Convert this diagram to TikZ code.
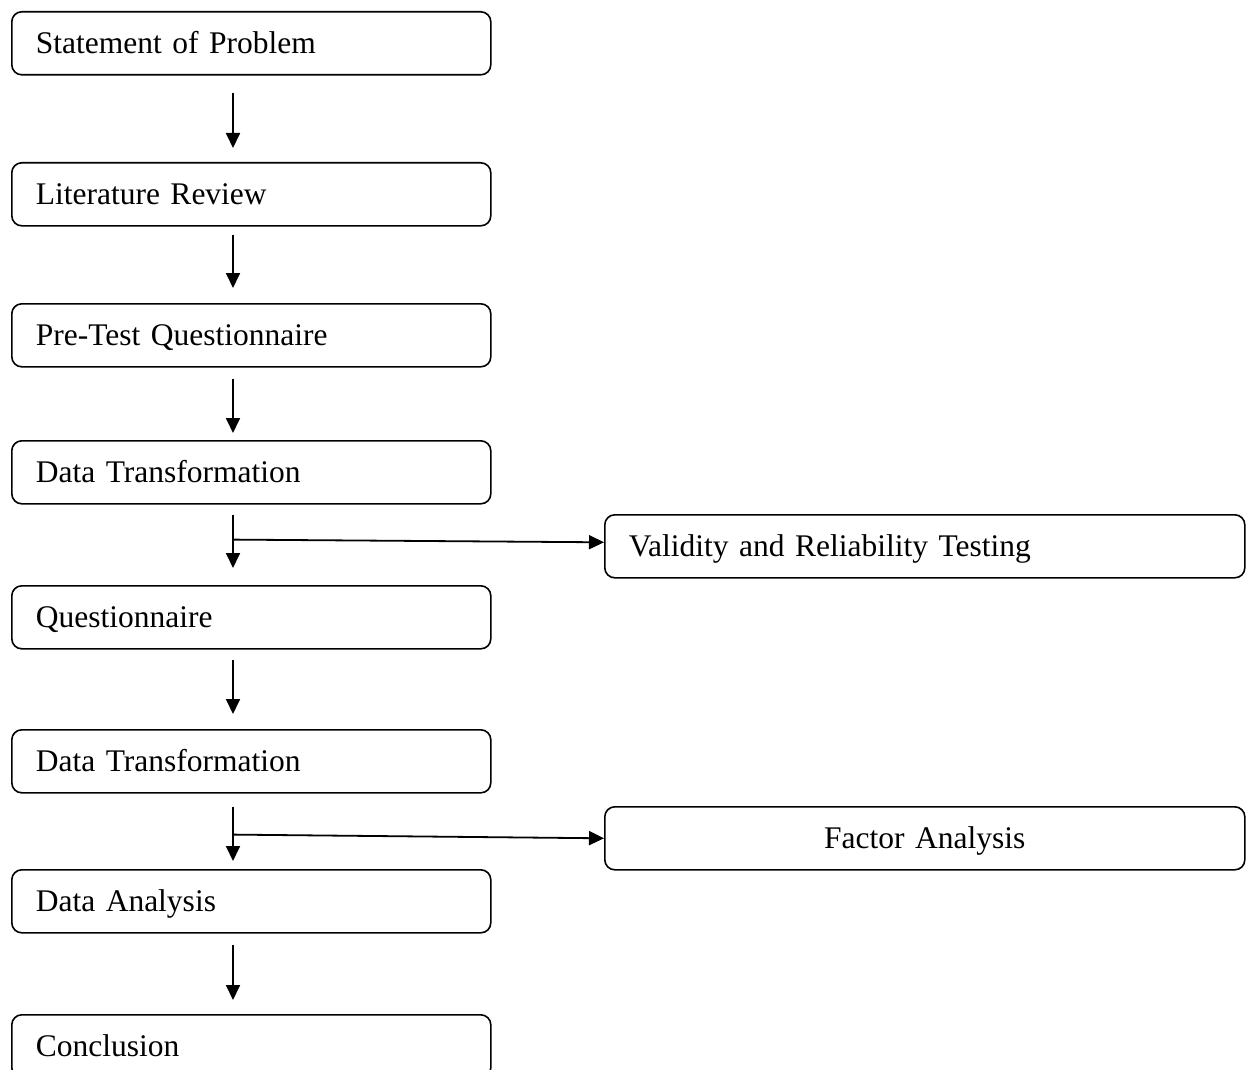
\documentclass[tikz,border=0pt]{standalone}
\usepackage{fontspec}
\setmainfont{Liberation Serif}
\usetikzlibrary{arrows.meta,calc}
\begin{document}
\begin{tikzpicture}[x=1pt,y=1pt,
  lbox/.style={draw,line width=1.6pt,rounded corners=10pt,anchor=north west,
    text width=431pt,inner xsep=24pt,inner ysep=0pt,minimum height=63pt,align=left,
    font=\fontsize{31.5}{38}\selectfont,text height=24pt,text depth=4pt},
  rbox/.style={lbox,text width=592pt},
  arr/.style={line width=1.8pt,-{Triangle[length=15pt,width=14pt]}}]
\clip (0,0) rectangle (1253,-1070);
\node[lbox] (b1) at (11,-11) {Statement of Problem};
\node[lbox] (b2) at (11,-162) {Literature Review};
\node[lbox] (b3) at (11,-303) {Pre-Test Questionnaire};
\node[lbox] (b4) at (11,-440) {Data Transformation};
\node[lbox] (b5) at (11,-585) {Questionnaire};
\node[lbox] (b6) at (11,-729) {Data Transformation};
\node[lbox] (b7) at (11,-869) {Data Analysis};
\node[lbox] (b8) at (11,-1014) {Conclusion};
\node[rbox] (v) at (604,-514) {Validity and Reliability Testing};
\node[rbox,align=center] (f) at (604,-806) {Factor Analysis};
\draw[arr] ($(b1.south west)+(222,-17)$) -- ($(b2.north west)+(222,14)$);
\draw[arr] ($(b2.south west)+(222,-8)$) -- ($(b3.north west)+(222,15)$);
\draw[arr] ($(b3.south west)+(222,-11)$) -- ($(b4.north west)+(222,7)$);
\draw[arr] ($(b4.south west)+(222,-10)$) -- ($(b5.north west)+(222,17)$);
\draw[arr] ($(b5.south west)+(222,-10)$) -- ($(b6.north west)+(222,15)$);
\draw[arr] ($(b6.south west)+(222,-13)$) -- ($(b7.north west)+(222,8)$);
\draw[arr] ($(b7.south west)+(222,-11)$) -- ($(b8.north west)+(222,14)$);
\coordinate (s1) at ($(b4.south west)+(222,-35)$);
\coordinate (s2) at ($(b6.south west)+(222,-41)$);
\draw[arr] (s1) -- ($(v.west)+(0,4)$);
\draw[arr] (s2) -- ($(f.west)+(0,0)$);
\end{tikzpicture}
\end{document}
